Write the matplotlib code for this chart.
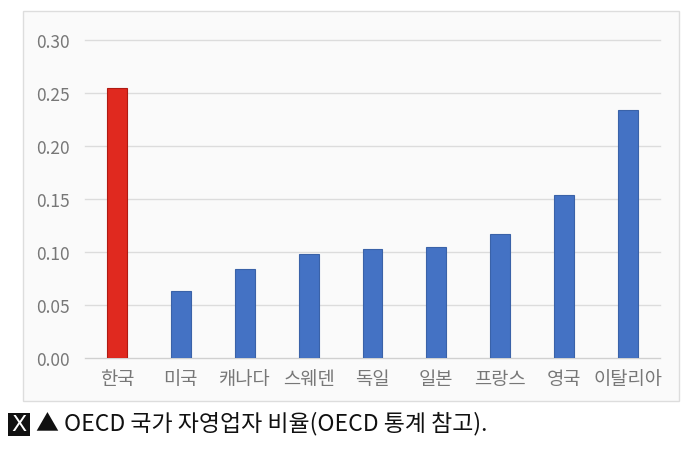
import matplotlib.pyplot as plt
from matplotlib.patches import Rectangle

plt.rcParams['font.family'] = ['Noto Sans CJK KR', 'DejaVu Sans']

countries = ['한국', '미국', '캐나다', '스웨덴', '독일', '일본', '프랑스', '영국', '이탈리아']
ratios = [0.255, 0.063, 0.084, 0.098, 0.103, 0.105, 0.117, 0.154, 0.234]
yticks = [0.00, 0.05, 0.10, 0.15, 0.20, 0.25, 0.30]
caption = '▲ OECD 국가 자영업자 비율(OECD 통계 참고).'

colors = ['#e0291f'] + ['#4472c4'] * (len(countries) - 1)
edges = ['#b01a12'] + ['#3a62a8'] * (len(countries) - 1)

fig = plt.figure(figsize=(7, 4.77), dpi=100)
fig.patch.set_facecolor('white')

# chart frame
frame = Rectangle((23 / 700, 1 - 402 / 477), 656 / 700, 390 / 477,
                  transform=fig.transFigure, facecolor='#fafafa',
                  edgecolor='#dddddd', linewidth=1, zorder=-5)
fig.patches.append(frame)

ax = fig.add_axes([85 / 700, 1 - 359 / 477, 575 / 700, 318 / 477])
ax.set_zorder(5)
ax.set_facecolor('none')
ax.bar(range(len(countries)), ratios, width=0.31, color=colors,
       edgecolor=edges, linewidth=0.8, zorder=3)
ax.set_xlim(-0.5, len(countries) - 0.5)
ax.set_ylim(0, 0.30)
ax.set_yticks(yticks)
ax.set_yticklabels(['%.2f' % v for v in yticks])
ax.set_xticks(range(len(countries)))
ax.set_xticklabels(countries)
ax.grid(axis='y', color='#dcdcdc', linewidth=1, zorder=0)
for g in ax.get_ygridlines():
    g.set_clip_on(False)
for s in ['top', 'right', 'left']:
    ax.spines[s].set_visible(False)
ax.spines['bottom'].set_color('#d0d0d0')
ax.tick_params(axis='both', length=0, colors='#777777')
ax.tick_params(axis='y', pad=11, labelsize=12.5)
ax.tick_params(axis='x', pad=7, labelsize=13.5)

# caption with the small x icon
fig.patches.append(Rectangle((8 / 700, 1 - 437 / 477), 22 / 700, 23 / 477,
                             transform=fig.transFigure, facecolor='#111111',
                             edgecolor='none', zorder=1))
fig.text(19 / 700, 1 - 425.5 / 477, 'X', color='white', fontsize=16,
         ha='center', va='center', family=['DejaVu Sans'], zorder=2)
fig.text(36 / 700, 1 - 424 / 477, caption, fontsize=16.5, color='#111111',
         ha='left', va='center', family=['Noto Sans CJK KR', 'DejaVu Sans'])

fig.savefig('out.png', dpi=100)
